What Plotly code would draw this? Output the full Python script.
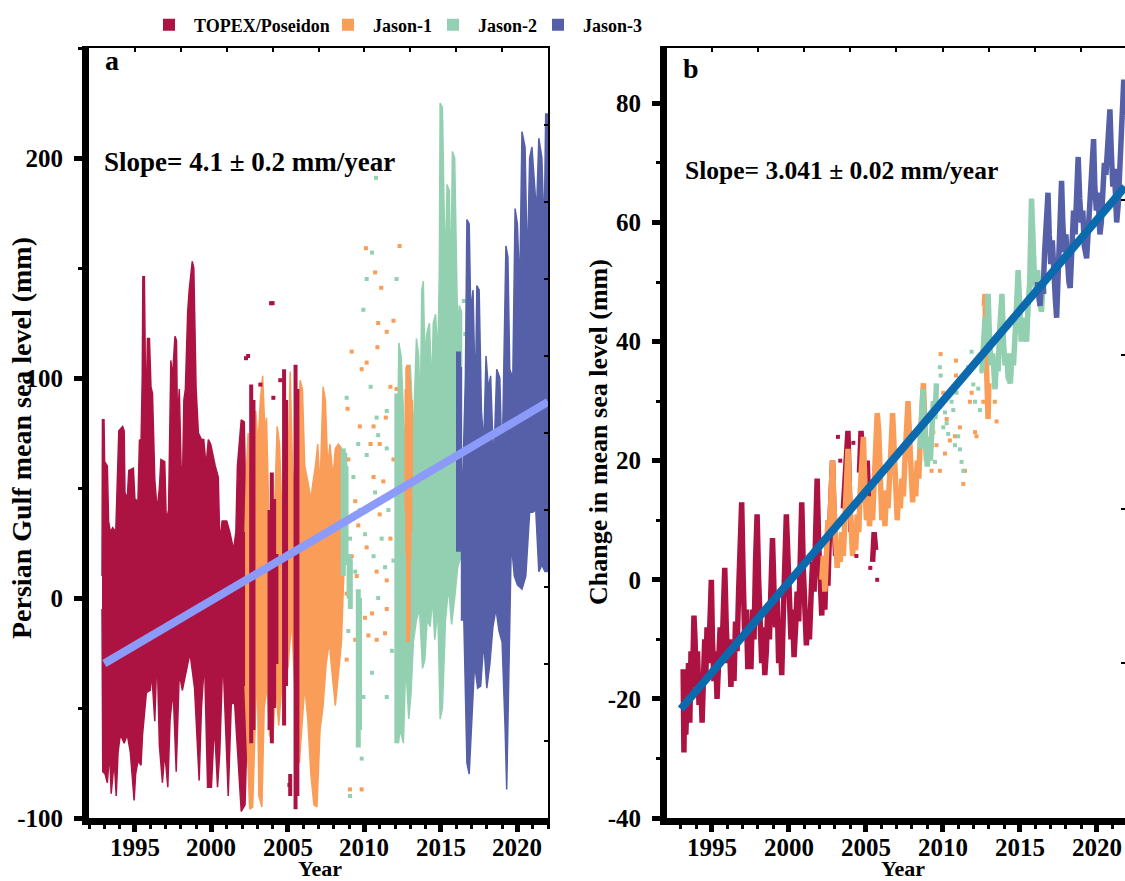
import plotly.graph_objects as go

# ---------------- colours ----------------
C_TOPEX = "#AC1343"
C_J1 = "#F99D59"
C_J2 = "#93D0B1"
C_J3 = "#5560A8"
C_TREND_A = "#8C9BFA"
C_TREND_B = "#0B6AAE"
FONT = "Liberation Serif"

# ---------------- tick labels ----------------
x_tickvals = [1995, 2000, 2005, 2010, 2015, 2020]
x_ticktext = ["1995", "2000", "2005", "2010", "2015", "2020"]
ya_tickvals = [-100, 0, 100, 200]
ya_ticktext = ["-100", "0", "100", "200"]
yb_tickvals = [-40, -20, 0, 20, 40, 60, 80]
yb_ticktext = ["-40", "-20", "0", "20", "40", "60", "80"]

# ---------------- panel a data (envelopes of dense series) ----------------
topex_a_up_t = [1992.85, 1992.88, 1992.98, 1993.02, 1993.2, 1993.28, 1993.4, 1993.55, 1993.75, 1993.85, 1993.95, 1994.2, 1994.3, 1994.35, 1994.5, 1994.6, 1994.9, 1995.0, 1995.2, 1995.3, 1995.4, 1995.48, 1995.52, 1995.62, 1995.66, 1995.72, 1995.82, 1995.95, 1996.05, 1996.15, 1996.3, 1996.45, 1996.6, 1996.7, 1996.95, 1997.05, 1997.2, 1997.35, 1997.45, 1997.62, 1997.72, 1997.78, 1997.9, 1998.02, 1998.12, 1998.2, 1998.3, 1998.45, 1998.55, 1998.75, 1998.85, 1998.92, 1999.0, 1999.15, 1999.35, 1999.5, 1999.65, 1999.8, 1999.95, 2000.1, 2000.25, 2000.45, 2000.55, 2000.7, 2001.0, 2001.2, 2001.45, 2001.6, 2001.7, 2001.95, 2002.15, 2002.25, 2002.33]
topex_a_up_v = [10, 81, 81, 62, 60, 35, 30, 32, 30, 55, 76, 78, 76, 48, 45, 58, 59, 45, 44, 72, 70, 100, 146, 146, 100, 80, 118, 118, 96, 93, 54, 40, 50, 63, 62, 35, 40, 108, 100, 119, 117, 80, 95, 60, 57, 90, 95, 130, 140, 153, 150, 115, 95, 75, 72, 72, 60, 72, 70, 65, 60, 55, 25, 35, 35, 30, 22, 30, 60, 81, 80, 40, 20]
topex_a_lo_t = [1992.85, 1992.9, 1993.05, 1993.2, 1993.35, 1993.45, 1993.55, 1993.65, 1993.78, 1993.9, 1994.05, 1994.3, 1994.5, 1994.7, 1994.95, 1995.05, 1995.2, 1995.4, 1995.5, 1995.75, 1996.0, 1996.1, 1996.3, 1996.45, 1996.6, 1996.8, 1996.95, 1997.15, 1997.3, 1997.5, 1997.7, 1997.9, 1998.1, 1998.4, 1998.6, 1998.9, 1999.2, 1999.35, 1999.55, 1999.75, 2000.0, 2000.2, 2000.4, 2000.55, 2000.75, 2001.1, 2001.3, 2001.52, 2001.75, 2001.95, 2002.2, 2002.33]
topex_a_lo_v = [-5, -79, -80, -84, -70, -89, -80, -74, -90, -70, -62, -66, -62, -70, -92, -80, -74, -76, -62, -43, -42, -34, -56, -24, -67, -84, -70, -86, -55, -42, -79, -34, -42, -32, -25, -41, -83, -50, -28, -86, -86, -57, -86, -70, -26, -90, -48, -48, -75, -97, -94, -60]

topex_a_stroke_t = [2002.6, 2002.75, 2003.8, 2003.95, 2004.1, 2004.25, 2004.75, 2004.88, 2005.15, 2005.5, 2005.62]
topex_a_stroke_lo = [-66, -60, -60, -66, -50, -30, -58, -40, -90, -96, -90]
topex_a_stroke_hi = [97, 90, 40, 57, 45, 20, 104, 90, -80, 106, 95]
topex_a_dot_t = [2002.26, 2002.4, 2003.2, 2003.9, 2004.0, 2004.05, 2004.5, 2005.1]
topex_a_dot_v = [109, 110, 97, 134, 134, 91, 99, -85]

j1_a_up_t = [2002.2, 2002.3, 2002.4, 2002.5, 2002.6, 2002.75, 2002.9, 2003.05, 2003.2, 2003.35, 2003.5, 2003.6, 2003.75, 2003.95, 2004.1, 2004.3, 2004.45, 2004.6, 2004.8, 2005.0, 2005.15, 2005.3, 2005.45, 2005.65, 2005.8, 2005.95, 2006.1, 2006.3, 2006.5, 2006.65, 2006.8, 2006.95, 2007.1, 2007.3, 2007.45, 2007.6, 2007.75, 2007.95, 2008.1, 2008.3, 2008.5, 2008.65]
j1_a_up_v = [30, 60, 75, 40, 20, 74, 85, 70, 90, 101, 75, 82, 40, 23, 35, 78, 70, 40, 53, 58, 103, 60, 45, 80, 99, 95, 60, 53, 45, 53, 60, 70, 50, 96, 90, 60, 70, 55, 68, 70, 68, 60]
j1_a_lo_t = [2002.2, 2002.35, 2002.5, 2002.7, 2002.85, 2003.0, 2003.1, 2003.3, 2003.45, 2003.65, 2003.8, 2004.0, 2004.2, 2004.4, 2004.6, 2004.8, 2005.0, 2005.25, 2005.5, 2005.75, 2005.9, 2006.1, 2006.3, 2006.5, 2006.7, 2006.9, 2007.1, 2007.3, 2007.5, 2007.7, 2007.9, 2008.1, 2008.3, 2008.5, 2008.65]
j1_a_lo_v = [-40, -70, -96, -95, -60, -30, -90, -95, -50, -40, -62, -66, -40, -58, -40, -20, -32, -10, -50, -75, -60, -40, -55, -80, -94, -95, -60, -49, -30, -20, -35, -49, -35, -20, 10]
j1_a_strip_t = [2012.75, 2012.8, 2012.85, 2012.9, 2012.95, 2013.0, 2013.05]
j1_a_strip_lo = [40, 20, -20, -15, 17, 30, 50]
j1_a_strip_hi = [95, 105, 106, 100, 95, 80, 90]
j1_a_dot_t = [2010.1, 2011.1, 2010.9, 2011.9, 2011.46, 2009.17, 2010.15, 2010.85, 2009.82, 2008.9, 2011.4, 2010.6, 2009.7, 2008.95, 2010.4, 2011.0, 2011.9, 2009.4, 2010.6, 2011.24, 2010.15, 2009.6, 2011.0, 2011.7, 2009.17, 2010.15, 2010.8, 2011.46, 2009.5, 2008.84, 2010.5, 2010.04, 2011.46, 2009.4, 2008.84, 2010.8, 2009.06, 2009.82, 2010.26, 2011.35, 2012.1, 2012.3, 2010.7, 2011.7]
j1_a_dot_v = [159, 141, 125, 126, 121, 112, 107, 114, 104, 86, 82, 78, 78, 63, 70, 70, 63, 44, 55, 53, 40, 33, 38, 27, 19, 23, 12, 8, 10, 2, -7, -9, -5, -19, -28, -19, -87, -87, -17, -16, 95, 160, 148, 96]

j2_a_strip_t = [2008.62, 2008.72, 2008.8, 2009.0, 2009.08, 2009.6, 2009.68, 2012.12]
j2_a_strip_lo = [10, 15, 20, -0.3, -5, -68, -60, -66]
j2_a_strip_hi = [68, 66, 60, 20, 18, 4, 0, 93]
j2_a_up_t = [2012.15, 2012.2, 2012.25, 2012.4, 2012.55, 2012.7, 2012.87, 2013.0, 2013.2, 2013.4, 2013.55, 2013.65, 2013.75, 2013.85, 2013.95, 2014.07, 2014.25, 2014.4, 2014.5, 2014.65, 2014.8, 2014.9, 2014.95, 2015.1, 2015.2, 2015.3, 2015.4, 2015.55, 2015.65, 2015.75, 2015.9, 2016.0, 2016.1, 2016.2, 2016.35]
j2_a_up_v = [60, 100, 116, 110, 85, 60, 100, 106, 75, 118, 110, 80, 140, 144, 110, 120, 125, 95, 125, 129, 110, 150, 225, 223, 180, 150, 188, 185, 140, 203, 200, 161, 120, 133, 130]
j2_a_lo_t = [2012.15, 2012.2, 2012.35, 2012.55, 2012.7, 2012.9, 2013.05, 2013.2, 2013.4, 2013.6, 2013.8, 2013.95, 2014.1, 2014.3, 2014.45, 2014.6, 2014.8, 2014.95, 2015.1, 2015.3, 2015.5, 2015.7, 2015.9, 2016.1, 2016.35]
j2_a_lo_v = [-20, -66, -60, -66, -30, -55, -43, -20, -10, -5, -32, -28, -10, -13, 0, -19, -5, -55, -50, -10, 5, -12, 0, 14, 20]
j2_a_dot_t = [2010.5, 2010.15, 2012.1, 2009.93, 2010.41, 2011.46, 2008.84, 2010.8, 2009.6, 2010.9, 2011.46, 2009.28, 2010.15, 2010.7, 2011.57, 2009.71, 2009.06, 2010.04, 2011.13, 2011.9, 2009.4, 2010.6, 2008.95, 2009.93, 2011.8, 2010.5, 2009.82, 2011.46, 2009.06, 2010.9, 2011.35, 2010.76, 2016.5, 2016.6, 2016.55]
j2_a_dot_v = [157, 145, 145, 131, 96, 85, 91, 82, 70, 74, 68, 55, 65, 48, 40, 40, 27, 29, 27, 17, 12, 19, -15, -45, -24, -34, -73, -45, -90, 0, 14, 191, 135, 120, 60]

j3_a_up_t = [2016.3, 2016.45, 2016.6, 2016.7, 2016.85, 2016.95, 2017.1, 2017.25, 2017.35, 2017.5, 2017.65, 2017.8, 2017.95, 2018.1, 2018.25, 2018.45, 2018.65, 2018.85, 2019.0, 2019.15, 2019.25, 2019.38, 2019.5, 2019.7, 2019.85, 2020.0, 2020.15, 2020.3, 2020.5, 2020.65, 2020.8, 2020.95, 2021.1, 2021.25, 2021.4, 2021.6, 2021.75, 2021.85, 2022.0]
j3_a_up_v = [40, 60, 100, 172, 170, 130, 140, 90, 142, 140, 85, 70, 110, 95, 101, 60, 104, 100, 60, 120, 160, 155, 104, 100, 177, 170, 140, 212, 205, 150, 200, 205, 190, 175, 209, 200, 165, 220, 220]
j3_a_lo_t = [2016.3, 2016.5, 2016.7, 2016.85, 2017.0, 2017.2, 2017.4, 2017.6, 2017.8, 2018.0, 2018.2, 2018.4, 2018.6, 2018.8, 2019.0, 2019.2, 2019.3, 2019.45, 2019.6, 2019.8, 2020.0, 2020.3, 2020.55, 2020.8, 2021.0, 2021.2, 2021.4, 2021.6, 2021.8, 2022.0]
j3_a_lo_v = [-10, -10, -75, -80, -60, -30, -41, -40, -20, -41, -30, -13, -5, -15, -20, -60, -87, -40, 25, 10, 6, 4, 10, 39, 39, 40, 12, 15, 12, 12]
j3_a_strip_t = [2016.15, 2016.22]
j3_a_strip_lo = [21, 25]
j3_a_strip_hi = [112, 105]

trend_a_t = [1993.0, 2022.0]
trend_a_v = [-29.8, 89.1]

# ---------------- panel b data ----------------
topex_b_t = [1993.15, 1993.2, 1993.25, 1993.32, 1993.4, 1993.5, 1993.58, 1993.66, 1993.75, 1993.85, 1993.92, 1994.0, 1994.08, 1994.18, 1994.28, 1994.38, 1994.45, 1994.55, 1994.62, 1994.7, 1994.8, 1994.9, 1994.98, 1995.05, 1995.15, 1995.25, 1995.35, 1995.45, 1995.55, 1995.65, 1995.75, 1995.85, 1995.95, 1996.05, 1996.15, 1996.25, 1996.35, 1996.45, 1996.55, 1996.65, 1996.75, 1996.85, 1996.95, 1997.05, 1997.15, 1997.25, 1997.35, 1997.45, 1997.55, 1997.65, 1997.75, 1997.85, 1997.95, 1998.05, 1998.15, 1998.25, 1998.35, 1998.45, 1998.55, 1998.65, 1998.75, 1998.85, 1998.95, 1999.05, 1999.15, 1999.25, 1999.35, 1999.45, 1999.55, 1999.65, 1999.75, 1999.85, 1999.95, 2000.05, 2000.15, 2000.25, 2000.35, 2000.45, 2000.55, 2000.65, 2000.75, 2000.85, 2000.95, 2001.05, 2001.15, 2001.25, 2001.35, 2001.45, 2001.55, 2001.65, 2001.75, 2001.85, 2001.95, 2002.05, 2002.15, 2002.25, 2002.35, 2002.45, 2002.55, 2002.65, 2002.75, 2002.85, 2002.95, 2003.05, None, 2003.55, 2003.65, 2003.75, 2003.85, 2003.95, 2004.05, None, 2004.6, 2004.7, 2004.8, 2004.9, 2005.0, 2005.1, 2005.2, None, 2005.45, 2005.55, 2005.65]
topex_b_v = [-15, -29, -17, -26, -20, -14, -24, -12, -18, -6, -10, -19, -12, -21, -16, -24, -18, -10, -16, -8, -14, -4, 0, -10, -17, -12, -20, -14, -8, -14, -3, 2, -8, -14, -10, -18, -12, -17, -7, -12, -2, 6, 13, 0, -10, -5, -15, -8, -15, -5, -10, 3, 11, 0, -6, -14, -8, -16, -12, -4, -10, 4, 7, -2, -8, -3, -14, -9, -16, -6, 2, 11, 4, -4, -10, -5, -13, -8, -2, -7, 6, 13, 2, -4, -11, -6, -10, -3, 3, -2, 10, 17, 6, 0, -6, 2, -5, 4, -1, 8, 16, 20, 10, 4, None, 12, 16, 22, 25, 14, 8, None, 18, 25, 20, 13, 16, 20, 12, None, 3, 8, 5]
topex_b_dot_t = [2003.2, 2003.35, 2004.2, 2004.4, 2005.3, 2005.75]
topex_b_dot_v = [24, 20, 23, 4, 2, 0]

j1_b_t = [2002.15, 2002.25, 2002.35, 2002.45, 2002.55, 2002.65, 2002.75, 2002.85, 2002.95, 2003.05, 2003.15, 2003.25, 2003.35, 2003.45, 2003.55, 2003.65, 2003.75, 2003.85, 2003.95, 2004.05, 2004.15, 2004.25, 2004.35, 2004.45, 2004.55, 2004.65, 2004.75, 2004.85, 2004.95, 2005.05, 2005.15, 2005.25, 2005.35, 2005.45, 2005.55, 2005.65, 2005.75, 2005.85, 2005.95, 2006.05, 2006.15, 2006.25, 2006.35, 2006.45, 2006.55, 2006.65, 2006.75, 2006.85, 2006.95, 2007.05, 2007.15, 2007.25, 2007.35, 2007.45, 2007.55, 2007.65, 2007.75, 2007.85, 2007.95, 2008.05, 2008.15, 2008.25, 2008.35, 2008.45, 2008.55, 2008.65, 2008.75, 2008.85, 2008.95, None, 2012.7, 2012.75, 2012.8, 2012.85, 2012.9, 2012.95, 2013.0]
j1_b_v = [0, 4, -2, 5, 10, 8, 16, 20, 12, 6, 2, 6, 3, 8, 4, 10, 18, 22, 15, 9, 4, 8, 5, 11, 8, 15, 22, 24, 16, 10, 14, 9, 13, 10, 16, 22, 28, 25, 17, 10, 14, 9, 15, 12, 17, 24, 28, 22, 15, 10, 15, 12, 17, 14, 20, 27, 30, 24, 17, 13, 18, 14, 20, 17, 24, 31, 33, 26, 20, None, 46, 48, 40, 35, 30, 27, 33]
j1_b_dot_t = [2009.87, 2010.86, 2010.86, 2010.04, 2010.26, 2009.39, 2009.6, 2010.47, 2010.8, 2011.34, 2011.45, 2011.88, 2012.1, 2012.2, 2013.39, 2013.5, 2012.64, 2011.77, 2011.12, 2010.15, 2009.28, 2009.82]
j1_b_dot_v = [37.9, 36.8, 34.3, 31.4, 27.0, 24.8, 22.6, 23.4, 24.1, 16.1, 18.3, 31.4, 24.8, 24.1, 29.9, 26.6, 29.9, 29.9, 25.6, 21.2, 18.3, 18.3]

j2_b_t = [2008.55, 2008.65, 2008.72, 2008.8, 2008.9, 2009.0, 2009.1, 2009.2, 2009.3, 2009.4, 2009.5, 2009.6, None, 2012.55, 2012.65, 2012.75, 2012.85, 2012.95, 2013.05, 2013.15, 2013.25, 2013.4, 2013.5, 2013.6, 2013.7, 2013.85, 2013.95, 2014.05, 2014.15, 2014.25, 2014.4, 2014.5, 2014.6, 2014.7, 2014.8, 2014.9, 2015.0, 2015.1, 2015.2, 2015.3, 2015.45, 2015.55, 2015.65, 2015.77, 2015.87, 2015.97, 2016.07, 2016.17, 2016.27, 2016.42, 2016.52, 2016.6]
j2_b_v = [22, 28, 32, 27, 22, 19, 24, 20, 25, 30, 27, 33, None, 35, 42, 44, 40, 48, 40, 36, 38, 32, 37, 35, 42, 48, 40, 36, 38, 34, 33, 38, 36, 44, 46, 52, 45, 40, 44, 42, 40, 46, 50, 64, 56, 50, 48, 52, 47, 45, 50, 48]
j2_b_dot_t = [2009.82, 2009.87, 2009.6, 2010.15, 2010.26, 2010.36, 2010.58, 2010.69, 2010.9, 2011.01, 2011.12, 2011.23, 2011.34, 2011.66, 2011.88, 2011.99, 2012.1, 2012.31, 2012.42, 2012.53, 2009.28, 2009.5, 2010.04, 2010.8]
j2_b_dot_v = [35.7, 34.3, 31.4, 28.1, 26.3, 24.5, 29.9, 28.5, 31.4, 24.1, 21.9, 19.8, 18.3, 35.7, 38.3, 32.8, 29.9, 32.1, 28.5, 35.0, 22.6, 19.8, 25.6, 22.6]

j3_b_t = [2016.15, 2016.25, 2016.32, 2016.42, 2016.52, 2016.62, 2016.72, 2016.84, 2016.92, 2017.02, 2017.12, 2017.22, 2017.32, 2017.4, 2017.5, 2017.6, 2017.72, 2017.8, 2017.9, 2018.0, 2018.1, 2018.2, 2018.28, 2018.4, 2018.5, 2018.6, 2018.7, 2018.8, 2018.9, 2019.0, 2019.1, 2019.2, 2019.35, 2019.45, 2019.55, 2019.65, 2019.72, 2019.8, 2019.88, 2019.98, 2020.08, 2020.21, 2020.3, 2020.4, 2020.5, 2020.6, 2020.7, 2020.86, 2020.95, 2021.05, 2021.15, 2021.3, 2021.4, 2021.5, 2021.6, 2021.68, 2021.76, 2021.85]
j3_b_v = [50, 47, 46, 50, 48, 55, 60, 65, 58, 53, 57, 50, 47, 44, 52, 60, 67, 60, 55, 58, 53, 50, 49, 57, 62, 58, 66, 71, 64, 60, 62, 56, 54, 58, 63, 67, 72, 74, 66, 62, 65, 58, 60, 66, 70, 68, 74, 79, 72, 66, 69, 60, 63, 70, 76, 80, 84, 78]

trend_b_t = [1993.0, 2021.84]
trend_b_v = [-21.7, 66.0]

legend_names = ["TOPEX/Poseidon", "Jason-1", "Jason-2", "Jason-3"]
legend_colors = [C_TOPEX, C_J1, C_J2, C_J3]

# ---------------- helpers ----------------
def strokes(ts, lo, hi):
    xs, ys = [], []
    for t, a, b in zip(ts, lo, hi):
        xs += [t, t, None]
        ys += [a, b, None]
    return xs, ys

fig = go.Figure()

def poly(up_t, up_v, lo_t, lo_v, color, xa, ya):
    fig.add_trace(go.Scatter(x=up_t + lo_t[::-1], y=up_v + lo_v[::-1], mode="lines",
                             fill="toself", fillcolor=color, line=dict(color=color, width=1.5),
                             showlegend=False, hoverinfo="skip", xaxis=xa, yaxis=ya))

def strk(ts, lo, hi, color, w, xa, ya):
    xs, ys = strokes(ts, lo, hi)
    fig.add_trace(go.Scatter(x=xs, y=ys, mode="lines", line=dict(color=color, width=w),
                             showlegend=False, hoverinfo="skip", xaxis=xa, yaxis=ya))

def dots(ts, vs, color, size, xa, ya):
    fig.add_trace(go.Scatter(x=ts, y=vs, mode="markers",
                             marker=dict(color=color, size=size, symbol="square"),
                             showlegend=False, hoverinfo="skip", xaxis=xa, yaxis=ya))

# panel a
poly(topex_a_up_t, topex_a_up_v, topex_a_lo_t, topex_a_lo_v, C_TOPEX, "x", "y")
poly(j1_a_up_t, j1_a_up_v, j1_a_lo_t, j1_a_lo_v, C_J1, "x", "y")
strk(topex_a_stroke_t, topex_a_stroke_lo, topex_a_stroke_hi, C_TOPEX, 4, "x", "y")
dots(topex_a_dot_t, topex_a_dot_v, C_TOPEX, 4, "x", "y")
dots(j1_a_dot_t, j1_a_dot_v, C_J1, 4, "x", "y")
dots(j2_a_dot_t, j2_a_dot_v, C_J2, 4, "x", "y")
strk(j2_a_strip_t, j2_a_strip_lo, j2_a_strip_hi, C_J2, 5, "x", "y")
poly(j2_a_up_t, j2_a_up_v, j2_a_lo_t, j2_a_lo_v, C_J2, "x", "y")
strk(j1_a_strip_t, j1_a_strip_lo, j1_a_strip_hi, C_J1, 4, "x", "y")
poly(j3_a_up_t, j3_a_up_v, j3_a_lo_t, j3_a_lo_v, C_J3, "x", "y")
strk(j3_a_strip_t, j3_a_strip_lo, j3_a_strip_hi, C_J3, 5, "x", "y")
fig.add_trace(go.Scatter(x=trend_a_t, y=trend_a_v, mode="lines",
                         line=dict(color=C_TREND_A, width=8), showlegend=False,
                         hoverinfo="skip", xaxis="x", yaxis="y"))

# panel b
fig.add_trace(go.Scatter(x=topex_b_t, y=topex_b_v, mode="lines", line=dict(color=C_TOPEX, width=5.5),
                         showlegend=False, xaxis="x2", yaxis="y2"))
fig.add_trace(go.Scatter(x=j1_b_t, y=j1_b_v, mode="lines", line=dict(color=C_J1, width=5.5),
                         showlegend=False, xaxis="x2", yaxis="y2"))
dots(topex_b_dot_t, topex_b_dot_v, C_TOPEX, 4, "x2", "y2")
dots(j1_b_dot_t, j1_b_dot_v, C_J1, 4, "x2", "y2")
dots(j2_b_dot_t, j2_b_dot_v, C_J2, 4, "x2", "y2")
fig.add_trace(go.Scatter(x=j2_b_t, y=j2_b_v, mode="lines", line=dict(color=C_J2, width=5.5),
                         showlegend=False, xaxis="x2", yaxis="y2"))
fig.add_trace(go.Scatter(x=j3_b_t, y=j3_b_v, mode="lines", line=dict(color=C_J3, width=5.5),
                         showlegend=False, xaxis="x2", yaxis="y2"))
fig.add_trace(go.Scatter(x=trend_b_t, y=trend_b_v, mode="lines",
                         line=dict(color=C_TREND_B, width=8), showlegend=False,
                         hoverinfo="skip", xaxis="x2", yaxis="y2"))

# mirror-axis anchor traces (invisible)
fig.add_trace(go.Scatter(x=[None], y=[None], showlegend=False, xaxis="x3", yaxis="y3"))
fig.add_trace(go.Scatter(x=[None], y=[None], showlegend=False, xaxis="x4", yaxis="y4"))

W, H = 1125, 881

# legend entries, one legend box each so they can be placed like the original
legend_marker_px = [168, 347, 452, 557]
legend_keys = ["legend", "legend2", "legend3", "legend4"]
for name, col, key in zip(legend_names, legend_colors, legend_keys):
    fig.add_trace(go.Scatter(x=[None], y=[None], mode="markers", name=name, legend=key,
                             marker=dict(color=col, size=12, symbol="square"), xaxis="x", yaxis="y"))

leg_layout = {}
for key, mx in zip(legend_keys, legend_marker_px):
    leg_layout[key] = dict(orientation="h", x=(mx - 24) / W, xanchor="left", y=1 - 25 / H,
                           yanchor="middle", bgcolor="rgba(0,0,0,0)", itemwidth=40,
                           font=dict(family=FONT, size=18, color="black", weight="bold"))

ydom = [1 - 818 / H, 1 - 48 / H]
xa_dom = [89 / W, 548 / W]
xb_dom = [667 / W, 1.0]
XA_RANGE = [1992.0, 2022.0]
XB_RANGE = [1992.1, 2021.84]
YA_RANGE = [-100, 250]
YB_RANGE = [-40, 89.3]

tickfont = dict(family=FONT, size=25, color="black", weight="bold")

def main_x(dom, rng, anchor):
    return dict(domain=dom, range=rng, anchor=anchor, showgrid=False, zeroline=False,
                showline=True, linewidth=7, linecolor="black", ticks="outside", ticklen=7,
                tickwidth=5, tickcolor="black", tickvals=x_tickvals, ticktext=x_ticktext,
                showticklabels=False, automargin=False,
                minor=dict(ticks="outside", dtick=1, tick0=1992, ticklen=4, tickwidth=3, tickcolor="black"))

def main_y(dom, rng, anchor, tv, tt, mdt):
    return dict(domain=dom, range=rng, anchor=anchor, showgrid=False, zeroline=False,
                showline=True, linewidth=7, linecolor="black", ticks="outside", ticklen=8,
                tickwidth=5, tickcolor="black", tickvals=tv, ticktext=tt, tickfont=tickfont,
                automargin=False, ticklabelstandoff=6,
                minor=dict(ticks="outside", dtick=mdt, tick0=0, ticklen=4, tickwidth=3, tickcolor="black"))

def top_x(rng, over, anchor):
    return dict(range=rng, overlaying=over, anchor=anchor, side="top", showgrid=False,
                zeroline=False, showline=True, linewidth=1.5, linecolor="black", ticks="inside",
                ticklen=4, tickwidth=1.5, tickcolor="black", tick0=1995, dtick=3,
                showticklabels=False, automargin=False)

def right_y(rng, over, anchor, t0, dt):
    return dict(range=rng, overlaying=over, anchor=anchor, side="right", showgrid=False,
                zeroline=False, showline=True, linewidth=1.5, linecolor="black", ticks="inside",
                ticklen=4, tickwidth=1.5, tickcolor="black", tick0=t0, dtick=dt,
                showticklabels=False, automargin=False)

fig.update_layout(
    width=W, height=H, margin=dict(l=0, r=0, t=0, b=0, autoexpand=False),
    paper_bgcolor="white", plot_bgcolor="white",
    xaxis=main_x(xa_dom, XA_RANGE, "y"),
    yaxis=main_y(ydom, YA_RANGE, "x", ya_tickvals, ya_ticktext, 50),
    xaxis2=main_x(xb_dom, XB_RANGE, "y2"),
    yaxis2=main_y(ydom, YB_RANGE, "x2", yb_tickvals, yb_ticktext, 10),
    xaxis3=top_x(XA_RANGE, "x", "y3"),
    yaxis3=right_y(YA_RANGE, "y", "x3", 5, 35),
    xaxis4=top_x(XB_RANGE, "x2", "y4"),
    yaxis4=right_y(YB_RANGE, "y2", "x4", -14, 25.9),
    showlegend=True,
    **leg_layout,
)

def ann(text, x, y, size, angle=0, xanchor="center", yanchor="middle"):
    fig.add_annotation(text=text, x=x / W, y=1 - y / H, xref="paper", yref="paper",
                       showarrow=False, textangle=angle, xanchor=xanchor, yanchor=yanchor,
                       font=dict(family=FONT, size=size, color="black", weight="bold"))

# x tick labels placed on the data axes
for xr in ["x", "x2"]:
    for tv, tt in zip(x_tickvals, x_ticktext):
        fig.add_annotation(text=tt, x=tv, xref=xr, y=1 - 847 / H, yref="paper",
                           showarrow=False, xanchor="center", yanchor="middle",
                           font=dict(family=FONT, size=25, color="black", weight="bold"))

ann("a", 103, 60, 28, xanchor="left")
ann("b", 681, 68, 28, xanchor="left")
ann("Slope= 4.1 ± 0.2 mm/year", 102, 162, 27, xanchor="left")
ann("Slope= 3.041 ± 0.02 mm/year", 683, 170, 25.5, xanchor="left")
ann("Persian Gulf mean sea level (mm)", 22, 438, 28, angle=-90)
ann("Change in mean sea level (mm)", 598, 432, 26, angle=-90)
ann("Year", 320, 868, 22)
ann("Year", 903, 868, 22)

fig.write_html("out.html")
